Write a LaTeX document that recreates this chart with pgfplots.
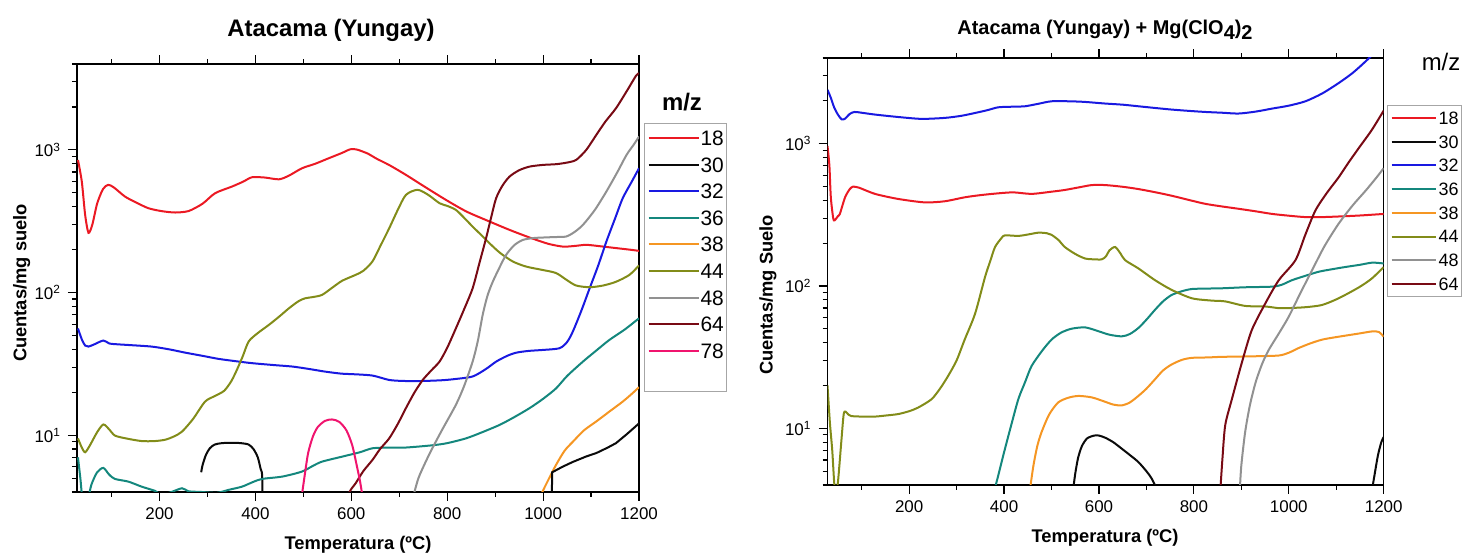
\documentclass[border=0pt]{standalone}
\usepackage{fontspec}
\setmainfont{Liberation Sans}
\usepackage{pgfplots}
\pgfplotsset{compat=1.18}

\definecolor{cRed}{RGB}{235,25,35}
\definecolor{cBlack}{RGB}{10,10,10}
\definecolor{cBlue}{RGB}{25,25,225}
\definecolor{cTeal}{RGB}{20,135,125}
\definecolor{cOrange}{RGB}{245,150,35}
\definecolor{cOlive}{RGB}{130,140,25}
\definecolor{cGray}{RGB}{145,145,145}
\definecolor{cDark}{RGB}{120,10,20}
\definecolor{cPink}{RGB}{240,20,110}

\newcommand{\lent}[1]{#1\hspace{2bp}}

\pgfplotsset{
  every axis/.append style={
    scale only axis,
    xmin=28, xmax=1200, ymin=4, ymax=4000,
    axis line style={line width=0.75bp},
    tick align=outside, xtick pos=both, ytick pos=left, xticklabel pos=bottom,
    major tick length=4.5bp, minor tick length=2.5bp,
    every tick/.style={black, line width=0.6bp},
    xtick={200,400,...,1200}, minor xtick={100,300,...,1100},
    ytick={10,100,1000},
    yticklabels={10\textsuperscript{1},10\textsuperscript{2},10\textsuperscript{3}},
    minor ytick={4,5,6,7,8,9,20,30,40,50,60,70,80,90,200,300,400,500,600,700,800,900,2000,3000,4000},
    tick label style={font=\fontsize{8.5}{10}\selectfont},
    /pgf/number format/assume math mode=true,
    /pgf/number format/1000 sep={},
    legend cell align=left,
  },
  every axis plot/.append style={line width=1bp, smooth, tension=0.45},
}

\begin{document}
\begin{tikzpicture}
\useasboundingbox (0,0) rectangle (731.5bp,277bp);

% ---------------- left axis ----------------
\begin{semilogyaxis}[at={(38.5bp,31bp)}, anchor=south west,
  width=281bp, height=214bp,
  legend style={at={(1.009,0.862)}, anchor=north west, draw=gray!70, line width=0.5bp,
    font=\fontsize{10.5}{12}\selectfont, inner xsep=1.5bp, inner ysep=3.5bp,
    row sep=5.8bp, column sep=0.5bp,
    nodes={inner sep=0pt, text height=7.5bp, text depth=0pt}},
  legend image code/.code={\draw[#1, line width=1bp] (0bp,0bp)--(25bp,0bp);}
]
% 18
\addplot[cRed] coordinates {(30,850)(38,600)(45,350)(52,262)(60,300)(70,420)(82,530)(93,569)(105,545)(128,471)(150,430)(177,390)(205,372)(233,364)(261,373)(290,420)(316,497)(351,553)(375,600)(393,643)(420,640)(449,622)(470,660)(497,743)(525,800)(553,874)(580,950)(598,1010)(612,1005)(635,940)(651,874)(680,780)(714,668)(750,560)(797,447)(840,370)(888,315)(930,275)(972,243)(1010,220)(1041,210)(1065,212)(1090,216)(1120,211)(1152,205)(1180,200)(1200,196)};
\addlegendentry{\lent{18}}
% 30
\addplot[cBlack] coordinates {(287,5.5)(290,6.2)(297,7.3)(305,8.1)(315,8.6)(330,8.8)(350,8.85)(370,8.8)(386,8.6)(396,8.0)(405,7.0)(411,5.8)(414,5.3)(415,3.5)};
\addlegendentry{\lent{30}}
% 32
\addplot[cBlue] coordinates {(30,56)(38,47)(45,42.5)(52,41.8)(65,43.5)(83,46.1)(95,44)(107,43.5)(140,42.8)(184,41.8)(220,40)(254,37.9)(290,36)(323,34.3)(360,33)(393,32.0)(440,31)(477,30.3)(510,29.2)(546,27.9)(580,27)(602,26.8)(644,26.2)(679,24.4)(710,24)(749,24.0)(790,24.3)(818,24.8)(853,25.8)(880,29)(902,32.8)(925,36)(944,37.9)(970,39)(999,39.6)(1034,40.7)(1050,45)(1062,53.3)(1080,75)(1097,107)(1115,155)(1132,228)(1150,330)(1166,458)(1185,600)(1200,744)};
\addlegendentry{\lent{32}}
% 36
\addplot[cTeal] coordinates {(30,7)(35,5)(40,3.5)(50,3.5)(58,4.5)(70,5.5)(83,5.9)(95,5.3)(107,4.94)(135,4.73)(163,4.36)(191,4.07)(200,3.9)(220,3.95)(247,4.25)(260,4.05)(288,4.0)(320,3.95)(344,4.14)(372,4.36)(395,4.7)(414,4.94)(456,5.13)(497,5.56)(520,6.1)(539,6.53)(581,7.08)(618,7.6)(644,8.1)(680,8.2)(714,8.2)(769,8.5)(800,8.8)(839,9.5)(870,10.4)(909,11.8)(940,13.4)(972,15.5)(1000,18)(1027,21.3)(1050,26)(1083,32.8)(1110,39)(1138,46.5)(1170,55)(1200,66)};
\addlegendentry{\lent{36}}
% 38
\addplot[cOrange] coordinates {(995,3.8)(1010,4.8)(1027,6.2)(1045,7.8)(1062,9.0)(1085,10.8)(1111,12.5)(1140,14.8)(1166,17.2)(1185,19.5)(1200,21.7)};
\addlegendentry{\lent{38}}
% 44
\addplot[cOlive] coordinates {(30,9.5)(38,8.2)(45,7.6)(55,8.5)(70,10.5)(83,11.9)(95,11)(107,9.95)(130,9.5)(163,9.1)(190,9.1)(212,9.3)(230,9.8)(247,10.6)(270,13)(295,17.2)(315,18.8)(335,20.5)(350,24)(362,29)(374,36)(386,45.4)(405,52)(428,59.3)(450,68)(470,77.6)(490,87)(504,91.2)(520,93)(539,96.3)(560,108)(581,121)(609,133)(625,142)(644,165)(660,210)(679,282)(697,380)(714,484)(738,525)(760,485)(784,423)(800,405)(818,380)(835,335)(853,290)(870,255)(888,222)(910,190)(937,165)(965,152)(999,144)(1027,137)(1050,122)(1069,112)(1097,109)(1125,112)(1152,119)(1180,133)(1200,155)};
\addlegendentry{\lent{44}}
% 48
\addplot[cGray] coordinates {(730,3.8)(740,5)(755,6.5)(769,8.1)(790,11)(818,16.3)(835,22)(853,32.8)(864,46)(874,69.7)(884,95)(895,119)(910,152)(923,184)(940,215)(958,234)(980,241)(999,243)(1025,245)(1048,247)(1065,265)(1083,298)(1108,380)(1132,511)(1155,700)(1174,922)(1190,1100)(1200,1240)};
\addlegendentry{\lent{48}}
% 64
\addplot[cDark] coordinates {(593,3.8)(600,4.2)(609,4.6)(625,5.6)(644,6.7)(660,8.0)(679,9.5)(697,12)(714,15.5)(732,20)(749,24.4)(767,28.5)(784,32.8)(800,41)(818,56)(835,76)(853,107)(867,160)(881,240)(892,340)(902,458)(915,560)(930,650)(950,720)(972,764)(1000,785)(1027,794)(1050,815)(1069,851)(1090,1000)(1111,1274)(1130,1580)(1152,1958)(1175,2600)(1194,3318)(1200,3440)};
\addlegendentry{\lent{64}}
% 78
\addplot[cPink] coordinates {(497,3.8)(502,5)(510,7.5)(520,9.8)(530,11.4)(545,12.6)(560,12.9)(575,12.4)(590,10.8)(602,8.5)(612,6)(618,4.8)(623,3.8)};
\addlegendentry{\lent{78}}
% second black segment (no legend)
\addplot[cBlack, forget plot, sharp plot] coordinates {(1018,3.5)(1019,5.5)(1040,6.0)(1062,6.5)(1090,7.1)(1111,7.5)(1135,8.2)(1152,8.8)(1175,10.2)(1200,12.1)};
\addlegendimage{white}\addlegendentry{}
\end{semilogyaxis}

% ---------------- right axis ----------------
\begin{semilogyaxis}[at={(413.75bp,34.5bp)}, anchor=south west,
  width=278.1bp, height=213.5bp,
  legend style={at={(1.006,0.890)}, anchor=north west, draw=gray!70, line width=0.5bp,
    font=\fontsize{9}{10}\selectfont, inner xsep=1.5bp, inner ysep=3.1bp,
    row sep=5.45bp, column sep=1bp,
    nodes={inner sep=0pt, text height=6.4bp, text depth=0pt}},
  legend image code/.code={\draw[#1, line width=1bp] (0bp,0bp)--(22bp,0bp);}
]
% 18
\addplot[cRed] coordinates {(28,963)(32,700)(35,420)(40,300)(43,289)(50,310)(54,321)(65,420)(75,480)(82,499)(95,490)(128,444)(177,409)(233,387)(275,394)(317,420)(350,435)(388,448)(420,455)(458,444)(500,460)(528,473)(560,495)(585,512)(613,512)(650,498)(683,480)(720,455)(753,431)(790,402)(824,378)(860,362)(894,349)(930,335)(965,321)(1000,312)(1035,305)(1070,305)(1105,308)(1150,313)(1200,321)};
\addlegendentry{18}
% 30
\addplot[cBlack] coordinates {(546,3.8)(550,4.8)(556,6.2)(564,7.5)(575,8.5)(590,8.9)(600,8.9)(613,8.6)(630,8.0)(648,7.2)(665,6.5)(683,5.8)(700,5.0)(710,4.5)(718,4.0)(722,3.7)};
\addlegendentry{30}
% 32
\addplot[cBlue] coordinates {(28,2393)(35,2100)(42,1800)(50,1600)(58,1480)(65,1500)(75,1620)(85,1671)(100,1650)(128,1602)(177,1540)(226,1494)(275,1518)(310,1570)(339,1644)(365,1720)(388,1802)(420,1820)(444,1832)(470,1900)(500,1986)(540,1985)(571,1965)(613,1915)(650,1880)(683,1832)(720,1780)(753,1737)(790,1700)(824,1671)(860,1650)(894,1629)(930,1680)(965,1765)(1000,1850)(1035,1986)(1070,2250)(1105,2666)(1135,3150)(1165,3874)(1190,4700)(1200,5100)};
\addlegendentry{32}
% 36
\addplot[cTeal] coordinates {(381,3.8)(390,5)(402,7.2)(415,10.5)(430,16.0)(444,21)(458,27.4)(480,35)(500,42)(520,47)(542,50.1)(571,51.2)(600,48)(622,45.5)(648,44.3)(665,46)(683,50.7)(700,58)(718,68)(735,78)(753,86.5)(775,92)(796,95.3)(830,96)(859,96.4)(908,98)(965,99)(985,102)(1007,110)(1035,118)(1063,126)(1090,131)(1119,136)(1150,141)(1176,146)(1200,144)};
\addlegendentry{36}
% 38
\addplot[cOrange] coordinates {(455,3.8)(462,5.5)(470,7.5)(479,9.4)(495,12.5)(514,15.2)(535,16.4)(557,16.9)(585,16.5)(610,15.5)(630,14.7)(648,14.5)(665,15.2)(683,16.9)(700,19)(718,22.1)(735,25.5)(753,28.1)(775,30.3)(796,31.3)(830,31.5)(859,31.8)(929,32.1)(979,32.5)(1000,34)(1021,36.7)(1045,39.5)(1070,42)(1095,43.5)(1119,44.8)(1150,46.5)(1176,48)(1190,47.5)(1200,44)};
\addlegendentry{38}
% 44
\addplot[cOlive] coordinates {(28,20)(33,11)(38,7)(42,4.2)(45,3.5)(50,4.2)(57,8)(62,12.5)(66,13.1)(72,12.5)(78,12.2)(100,12.1)(128,12.1)(150,12.3)(177,12.6)(200,13.2)(219,14.0)(247,16.0)(265,19)(282,23.3)(300,30)(317,42)(339,64)(360,116)(371,150)(381,188)(395,218)(402,227)(430,225)(450,230)(472,237)(490,235)(500,229)(515,210)(528,188)(550,168)(571,156)(590,154)(606,154)(615,162)(622,178)(634,188)(645,170)(655,152)(683,133)(718,110)(753,94)(796,82)(838,79)(866,78)(908,72.5)(951,71.8)(979,69.9)(1000,70)(1035,71)(1070,73.6)(1105,82)(1148,98)(1175,113)(1200,136)};
\addlegendentry{44}
% 48
\addplot[cGray] coordinates {(897,3.8)(900,5.5)(908,9.4)(918,14.5)(930,21)(944,28.5)(958,35.7)(980,47)(1000,61)(1025,90)(1049,129)(1075,190)(1105,274)(1135,370)(1162,468)(1185,580)(1200,673)};
\addlegendentry{48}
% 64
\addplot[cDark] coordinates {(856,3.8)(860,6)(866,10.5)(880,16)(901,28.9)(922,49)(951,76)(979,110)(1014,152)(1035,230)(1056,339)(1080,450)(1105,580)(1125,730)(1148,937)(1175,1250)(1200,1710)};
\addlegendentry{64}
\addplot[cBlack, forget plot] coordinates {(1176,3.8)(1182,5)(1188,6.5)(1195,8)(1200,8.7)};
\end{semilogyaxis}

% ---------------- texts ----------------
\node[font=\bfseries\fontsize{12}{14}\selectfont] at (165.5bp,262bp) {Atacama (Yungay)};
\node[font=\bfseries\fontsize{10}{12}\selectfont] at (552.5bp,262bp) {Atacama (Yungay) + Mg(ClO\raisebox{-0.45ex}{4})\raisebox{-0.45ex}{2}};
\node[font=\bfseries\fontsize{9.2}{11}\selectfont] at (179bp,4.5bp) {Temperatura (ºC)};
\node[font=\bfseries\fontsize{9.2}{11}\selectfont] at (552.5bp,8bp) {Temperatura (ºC)};
\node[font=\bfseries\fontsize{9.2}{11}\selectfont, rotate=90] at (10.85bp,135.5bp) {Cuentas/mg suelo};
\node[font=\bfseries\fontsize{9.2}{11}\selectfont, rotate=90] at (384bp,129.5bp) {Cuentas/mg Suelo};
\node[font=\bfseries\fontsize{12}{14}\selectfont] at (341bp,226bp) {m/z};
\node[font=\fontsize{12}{14}\selectfont] at (720.5bp,246bp) {m/z};
\end{tikzpicture}
\end{document}
